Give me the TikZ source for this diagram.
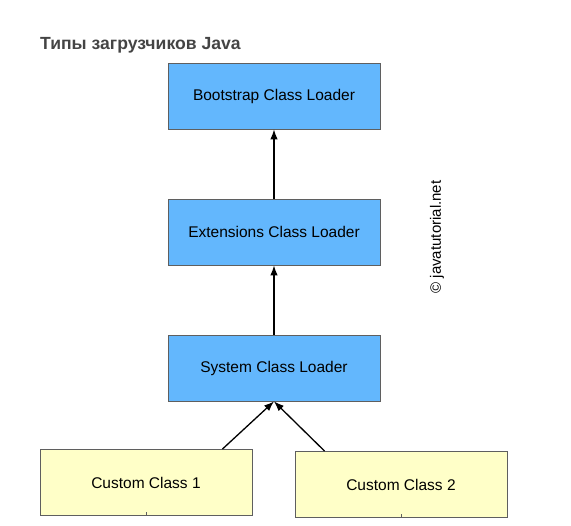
\documentclass[tikz,border=0pt]{standalone}
\usepackage{fontspec}
\setmainfont{Liberation Sans}
\usepackage{tikz}
\usetikzlibrary{arrows.meta}
\usepackage{xcolor}
\definecolor{loaderblue}{RGB}{99,183,253}
\definecolor{customyellow}{RGB}{255,255,200}
\definecolor{boxborder}{RGB}{95,95,95}
\definecolor{titlegray}{RGB}{68,68,68}

\tikzset{
  loader/.style={draw=boxborder, fill=loaderblue, line width=0.8pt, minimum width=212pt, minimum height=66pt, font=\fontsize{15.5}{18}\selectfont},
  custom/.style={draw=boxborder, fill=customyellow, line width=0.8pt, minimum width=212pt, minimum height=66pt, font=\fontsize{15.5}{18}\selectfont},
  parent/.style={line width=1.3pt, -{Latex[length=10pt,width=7.5pt]}}
}

\begin{document}
\begin{tikzpicture}[x=1pt,y=-1pt]
\useasboundingbox (0,0) rectangle (571,526);

% Title
\node[anchor=base west, inner sep=0pt, text=titlegray, font=\fontsize{17.6}{20}\bfseries\selectfont] (title) at (40,50) {Типы загрузчиков Java};

% Loader hierarchy
\node[loader] (boot) at (274,96) {Bootstrap Class Loader};
\node[loader] (ext) at (274,232) {Extensions Class Loader};
\node[loader] (sys) at (274,368) {System Class Loader};

% Custom classes
\node[custom] (cc1) at (146,482.5) {Custom Class 1};
\node[custom] (cc2) at (401,484.5) {Custom Class 2};

% Delegation arrows
\draw[parent] (ext) -- (boot);
\draw[parent] (sys) -- (ext);
\draw[parent] ([xshift=-30pt]cc1.north east) -- (sys.south);
\draw[parent] ([xshift=30pt]cc2.north west) -- (sys.south);

% Stubs below custom boxes
\coordinate (stub1) at ([yshift=4pt]cc1.south);
\coordinate (stub2) at ([yshift=4pt]cc2.south);
\draw[line width=0.8pt, boxborder] (cc1.south) -- (stub1);
\draw[line width=0.8pt, boxborder] (cc2.south) -- (stub2);

% Copyright
\node[rotate=90, font=\fontsize{15}{18}\selectfont] (copy) at (437,237) {© javatutorial.net};
\end{tikzpicture}
\end{document}
